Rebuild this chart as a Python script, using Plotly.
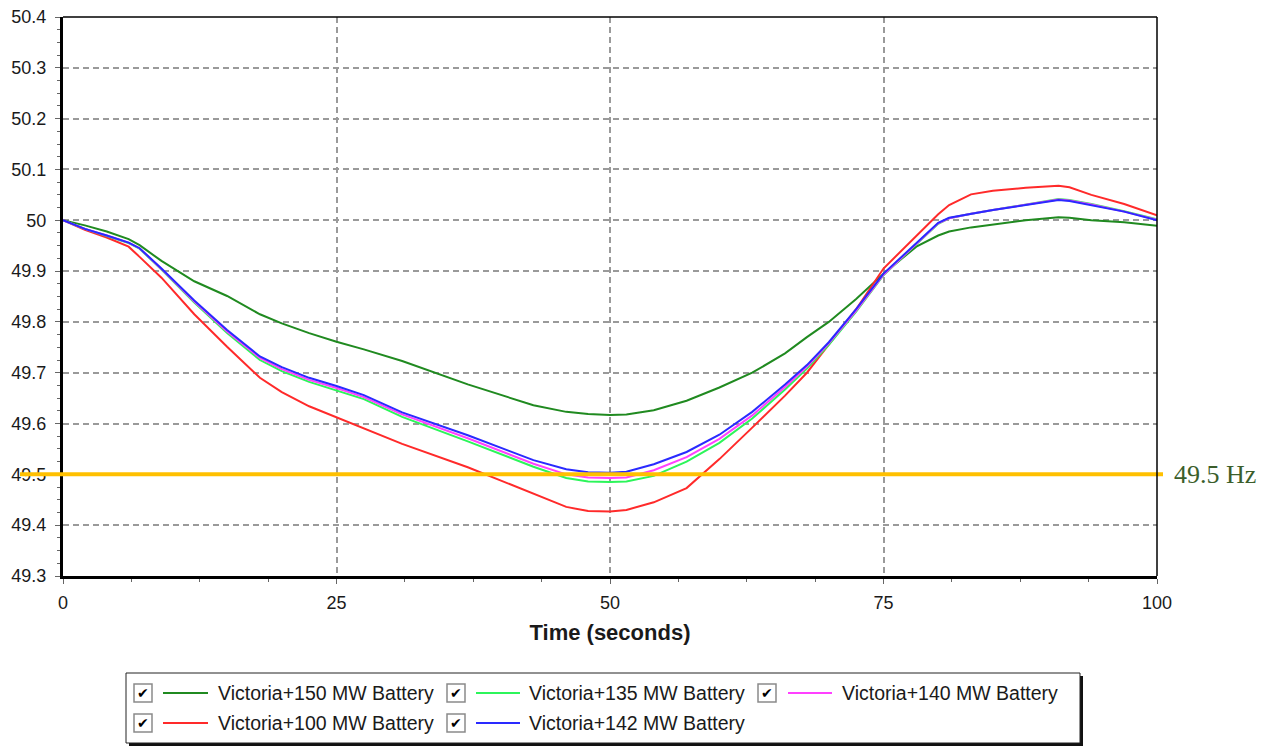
import plotly.graph_objects as go

# ---- data ----
time_s = [0, 2, 4, 6, 7, 9, 12, 15, 18, 20, 22.5, 25, 27.5, 31, 37, 43, 46, 48, 50, 51.5,
          54, 57, 60, 63, 66, 68, 70, 72.5, 75, 78, 80, 81, 83, 85, 88, 91, 92, 94, 97, 100]

freq_150 = [50.0, 49.990, 49.978, 49.963, 49.951, 49.920, 49.880, 49.851, 49.815, 49.797,
            49.778, 49.761, 49.746, 49.723, 49.677, 49.636, 49.623, 49.619, 49.617, 49.618,
            49.626, 49.645, 49.671, 49.700, 49.738, 49.770, 49.800, 49.845, 49.895, 49.948,
            49.970, 49.978, 49.986, 49.992, 50.000, 50.006, 50.005, 50.000, 49.996, 49.989]

freq_100 = [50.0, 49.981, 49.966, 49.948, 49.928, 49.887, 49.815, 49.751, 49.690, 49.662,
            49.634, 49.612, 49.591, 49.560, 49.514, 49.463, 49.436, 49.428, 49.427, 49.430,
            49.445, 49.473, 49.530, 49.592, 49.655, 49.700, 49.755, 49.825, 49.905, 49.970,
            50.012, 50.030, 50.051, 50.058, 50.064, 50.068, 50.065, 50.050, 50.032, 50.010]

freq_135 = [50.0, 49.983, 49.969, 49.955, 49.944, 49.903, 49.838, 49.778, 49.725, 49.703,
            49.682, 49.665, 49.648, 49.613, 49.565, 49.515, 49.493, 49.486, 49.485, 49.486,
            49.497, 49.525, 49.562, 49.610, 49.667, 49.708, 49.755, 49.820, 49.892, 49.953,
            49.993, 50.004, 50.013, 50.020, 50.031, 50.042, 50.040, 50.032, 50.018, 50.002]

freq_140 = [50.0, 49.983, 49.970, 49.956, 49.945, 49.904, 49.840, 49.781, 49.729, 49.707,
            49.686, 49.670, 49.652, 49.618, 49.571, 49.521, 49.500, 49.494, 49.493, 49.494,
            49.508, 49.534, 49.570, 49.616, 49.672, 49.712, 49.758, 49.822, 49.893, 49.954,
            49.994, 50.004, 50.013, 50.020, 50.030, 50.041, 50.039, 50.031, 50.017, 50.001]

freq_142 = [50.0, 49.983, 49.970, 49.956, 49.945, 49.905, 49.842, 49.784, 49.732, 49.711,
            49.690, 49.674, 49.656, 49.622, 49.577, 49.528, 49.510, 49.504, 49.503, 49.505,
            49.520, 49.544, 49.578, 49.623, 49.677, 49.715, 49.760, 49.825, 49.895, 49.955,
            49.995, 50.005, 50.013, 50.020, 50.030, 50.040, 50.038, 50.030, 50.017, 50.000]

series_names = ["Victoria+150 MW Battery", "Victoria+135 MW Battery", "Victoria+140 MW Battery",
                "Victoria+100 MW Battery", "Victoria+142 MW Battery"]
series_values = [freq_150, freq_135, freq_140, freq_100, freq_142]
series_colors = ["#208a20", "#2cf55a", "#ff40ff", "#ff2a2a", "#2a2aff"]
draw_order = [0, 3, 1, 2, 4]

y_ticks = [49.3, 49.4, 49.5, 49.6, 49.7, 49.8, 49.9, 50.0, 50.1, 50.2, 50.3, 50.4]
y_ticktext = ["49.3", "49.4", "49.5", "49.6", "49.7", "49.8", "49.9", "50", "50.1", "50.2", "50.3", "50.4"]
x_ticks = [0, 25, 50, 75, 100]
threshold = 49.5
threshold_label = "49.5 Hz"
x_title = "Time (seconds)"

# ---- layout geometry (pixels) ----
W, H = 1280, 748
L, R, T, B = 63, 1157, 17, 576
PW, PH = R - L, B - T


def px(xp):
    return (xp - L) / PW


def py(yp):
    return (B - yp) / PH


fig = go.Figure()
for i in draw_order:
    fig.add_trace(go.Scatter(x=time_s, y=series_values[i], mode="lines", name=series_names[i],
                             line=dict(color=series_colors[i], width=2), showlegend=False,
                             hoverinfo="skip"))

shapes = []
annotations = []

# threshold line & label
shapes.append(dict(type="line", xref="paper", yref="y", x0=px(20), x1=px(1163), y0=threshold, y1=threshold,
                   line=dict(color="#ffc000", width=4), layer="above"))
annotations.append(dict(xref="paper", yref="y", x=px(1172), y=threshold, xanchor="left", yanchor="middle",
                        text=threshold_label, showarrow=False,
                        font=dict(family="Liberation Serif, Times New Roman, serif", size=26, color="#3b5e2b")))

# top/right thin border
shapes.append(dict(type="line", xref="paper", yref="paper", x0=0, x1=1, y0=1, y1=1,
                   line=dict(color="black", width=1.5), layer="above"))
shapes.append(dict(type="line", xref="paper", yref="paper", x0=1, x1=1, y0=0, y1=1,
                   line=dict(color="black", width=1.5), layer="above"))

# legend box with shadow
shapes.append(dict(type="rect", xref="paper", yref="paper", x0=px(129), x1=px(1083), y0=py(676), y1=py(746),
                   line=dict(width=0), fillcolor="#111111", layer="above"))
shapes.append(dict(type="rect", xref="paper", yref="paper", x0=px(126), x1=px(1080), y0=py(673), y1=py(743),
                   line=dict(width=1, color="#222222"), fillcolor="white", layer="above"))

col_box = [134, 447, 758]
col_line = [(163, 208), (476, 520), (788, 832)]
col_text = [216, 527, 840]
row_y = [693, 723]
for k, name in enumerate(series_names):
    r, c = divmod(k, 3)
    yc = row_y[r]
    bx = col_box[c]
    shapes.append(dict(type="rect", xref="paper", yref="paper", x0=px(bx), x1=px(bx + 18),
                       y0=py(yc + 9), y1=py(yc - 9), line=dict(width=1.5, color="#8a8a8a"),
                       fillcolor="white", layer="above"))
    annotations.append(dict(xref="paper", yref="paper", x=px(bx + 9), y=py(yc), xanchor="center",
                            yanchor="middle", text="✔", showarrow=False,
                            font=dict(family="DejaVu Sans", size=14, color="black")))
    shapes.append(dict(type="line", xref="paper", yref="paper", x0=px(col_line[c][0]), x1=px(col_line[c][1]),
                       y0=py(yc), y1=py(yc), line=dict(color=series_colors[k], width=2), layer="above"))
    annotations.append(dict(xref="paper", yref="paper", x=px(col_text[c]), y=py(yc), xanchor="left",
                            yanchor="middle", text=name, showarrow=False,
                            font=dict(family="Liberation Sans, Arial, sans-serif", size=19.5, color="#1a1a1a")))

fig.update_layout(
    width=W, height=H,
    margin=dict(l=L, r=W - R, t=T, b=H - B, pad=0, autoexpand=False),
    paper_bgcolor="white", plot_bgcolor="white",
    font=dict(family="Liberation Sans, Arial, sans-serif", size=18, color="#1a1a1a"),
    shapes=shapes, annotations=annotations,
    showlegend=False,
    xaxis=dict(range=[0, 100], tickvals=x_ticks, ticks="outside", ticklen=5, tickcolor="#666",
               showline=True, linecolor="black", linewidth=3, mirror=False, zeroline=False,
               automargin=False, ticklabelstandoff=3,
               showgrid=True, gridcolor="#9a9a9a", griddash="6px,4px", gridwidth=1.5,
               tickfont=dict(size=18),
               minor=dict(dtick=6.25, ticks="outside", ticklen=3, tickcolor="#666", showgrid=False),
               title=dict(text="<b>" + x_title + "</b>", font=dict(size=22), standoff=14)),
    yaxis=dict(range=[49.3, 50.4], tickvals=y_ticks, ticktext=y_ticktext, ticks="outside", ticklen=5,
               tickcolor="#666", showline=True, linecolor="black", linewidth=3, mirror=False,
               zeroline=False, automargin=False, ticklabelstandoff=5,
               showgrid=True, gridcolor="#9a9a9a", griddash="6px,4px", gridwidth=1.5,
               tickfont=dict(size=18),
               minor=dict(dtick=0.025, ticks="outside", ticklen=3, tickcolor="#666", showgrid=False)),
)

fig.write_html("out.html", config={"displayModeBar": False},
               post_script="document.body.style.margin='0px';")
